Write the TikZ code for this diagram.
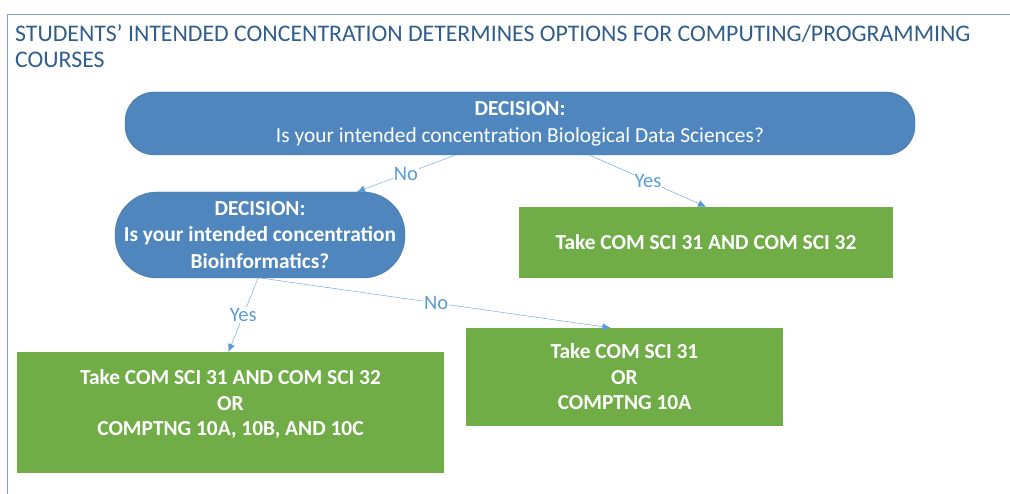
\documentclass[tikz,border=0pt]{standalone}
\usepackage{fontspec}
\setmainfont{Carlito}
\usetikzlibrary{arrows.meta}
\definecolor{frameblue}{HTML}{7F9FCF}
\definecolor{titleblue}{HTML}{2F5D8C}
\definecolor{decblue}{HTML}{4F86BD}
\definecolor{decedge}{HTML}{41719C}
\definecolor{linkblue}{HTML}{5B9BD5}
\definecolor{takegreen}{HTML}{70AD47}
\begin{document}
\begin{tikzpicture}[x=1pt,y=-1pt,
  decision/.style={fill=decblue, draw=decedge, text=white, align=center, font=\fontsize{21.4}{27}\selectfont},
  take/.style={fill=takegreen, text=white, align=center, font=\fontsize{21.4}{25.5}\selectfont\bfseries},
  link/.style={draw=linkblue, -{Latex[length=8pt,width=7pt]}},
  answer/.style={fill=white, text=linkblue, inner sep=1pt, font=\fontsize{20.5}{20.5}\selectfont}]
\useasboundingbox (0,0) rectangle (1010,494);

% frame and heading
\draw[frameblue] (7,494) -- (7,14) -- (1010,14);
\node[anchor=north west, text=titleblue, align=left, font=\fontsize{23.8}{26}\selectfont, inner sep=0pt]
  (title) at (15,25) {STUDENTS' INTENDED CONCENTRATION DETERMINES OPTIONS FOR COMPUTING/PROGRAMMING\\COURSES};

% decisions
\node[decision, rounded corners=29pt, minimum width=790pt, minimum height=63pt] (biodata) at (520,123.5)
  {\textbf{DECISION:}\\Is your intended concentration Biological Data Sciences?};
\node[decision, rounded corners=42pt, minimum width=290pt, minimum height=86pt, font=\fontsize{21.4}{26.5}\selectfont\bfseries] (bioinf) at (260,235)
  {DECISION:\\Is your intended concentration\\Bioinformatics?};

% outcomes
\node[take, minimum width=374pt, minimum height=71pt] (both) at (706,242.5) {Take COM SCI 31 AND COM SCI 32};
\node[take, minimum width=427pt, minimum height=121pt, anchor=north, text depth=20pt] (either) at (230.5,352)
  {Take COM SCI 31 AND COM SCI 32\\OR\\COMPTNG 10A, 10B, AND 10C};
\node[take, minimum width=317pt, minimum height=98pt] (single) at (624.5,377)
  {Take COM SCI 31\\OR\\COMPTNG 10A};

% connectors
\draw[link] ([xshift=-65pt]biodata.south) -- node[answer] {No} ([xshift=97pt]bioinf.north);
\draw[link] ([xshift=70pt]biodata.south) -- node[answer] {Yes} (both.north);
\draw[link] ([xshift=-2pt]bioinf.south) -- node[answer] {Yes} ([xshift=-2pt]either.north);
\draw[link] ([xshift=2pt]bioinf.south) -- node[answer] {No} ([xshift=-14pt]single.north);
\end{tikzpicture}
\end{document}
